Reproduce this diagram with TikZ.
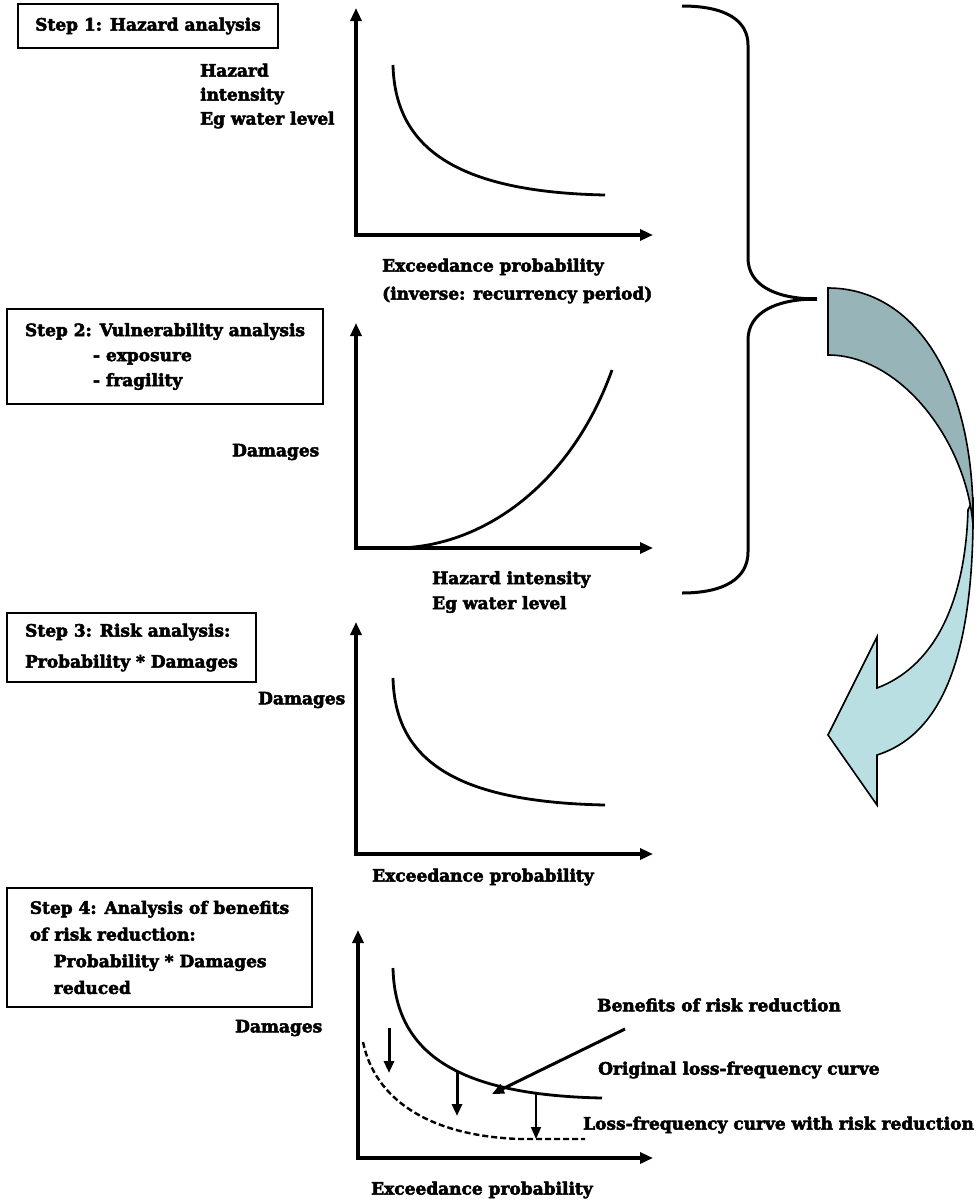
\documentclass[tikz,border=0pt]{standalone}
\usepackage{fontspec}
\setmainfont{DejaVu Serif}[BoldFeatures={FakeBold=3}]
\usetikzlibrary{arrows.meta}
\definecolor{arrowdark}{RGB}{151,180,184}
\definecolor{arrowlight}{RGB}{186,223,227}
\begin{document}
\begin{tikzpicture}[x=1pt,y=-1pt,
  font=\bfseries\fontsize{17}{24}\selectfont,
  lbl/.style={anchor=west, inner sep=0pt, align=left},
  stepbox/.style={draw, line width=2.8pt, inner sep=0pt, align=left},
  axis/.style={line width=3.2pt, {Triangle[length=13pt,width=11pt]}-{Triangle[length=13pt,width=11pt]}},
  curve/.style={line width=2.8pt},
  drop/.style={line width=3pt, -{Triangle[length=12pt,width=10pt]}},
  thindrop/.style={line width=1.8pt, -{Triangle[length=12pt,width=10pt]}},
  bracestyle/.style={line width=3pt},
  arrowshape/.style={draw=black, line width=1.6pt}
]
\useasboundingbox (0,0) rectangle (980,1203);

% ---------- Step boxes ----------
\node[stepbox, minimum width=260pt, minimum height=44pt] (s1) at (148,26) {Step 1: Hazard analysis};
\node[stepbox, minimum width=316pt, minimum height=95pt, font=\bfseries\fontsize{17}{25}\selectfont] (s2) at (165,356.5)
  {Step 2: Vulnerability analysis\\\hspace{68pt}- exposure\\\hspace{68pt}- fragility};
\node[stepbox, minimum width=249pt, minimum height=69pt, font=\bfseries\fontsize{17}{31}\selectfont] (s3) at (131.5,647.5)
  {Step 3: Risk analysis:\\Probability * Damages};
\node[stepbox, minimum width=305pt, minimum height=119pt, font=\bfseries\fontsize{17}{26.7}\selectfont] (s4) at (159.5,947.5)
  {Step 4: Analysis of benefits\\of risk reduction:\\\hspace{24pt}Probability * Damages\\\hspace{24pt}reduced};

% ---------- Chart 1 ----------
\coordinate (o1) at (356,235);
\coordinate (y1) at (356,8);
\coordinate (x1) at (653,235);
\draw[axis] (y1) -- (o1) -- (x1);
\coordinate (c1a) at (393,65);
\coordinate (c1b) at (605,195);
\draw[curve] (c1a) .. controls ([shift={(2,82)}]c1a) and ([shift={(-150,-3)}]c1b) .. (c1b);
\node[lbl] (l1y) at (200,96) {Hazard\\intensity\\Eg water level};
\node[lbl, font=\bfseries\fontsize{17}{28}\selectfont] (l1x) at (382,281) {Exceedance probability\\(inverse: recurrency period)};

% ---------- Chart 2 ----------
\coordinate (o2) at (356,548);
\coordinate (y2) at (356,323);
\coordinate (x2) at (653,548);
\draw[axis] (y2) -- (o2) -- (x2);
\coordinate (c2a) at (395,548);
\coordinate (c2b) at (612,370);
\draw[curve] (c2a) .. controls (480,548) and (570,487) .. (c2b);
\node[lbl] (l2y) at (232,452) {Damages};
\node[lbl, font=\bfseries\fontsize{17}{25}\selectfont] (l2x) at (432,592) {Hazard intensity\\Eg water level};

% ---------- Chart 3 ----------
\coordinate (o3) at (356,854);
\coordinate (y3) at (356,622);
\coordinate (x3) at (653,854);
\draw[axis] (y3) -- (o3) -- (x3);
\coordinate (c3a) at (393,678);
\coordinate (c3b) at (605,805);
\draw[curve] (c3a) .. controls ([shift={(2,82)}]c3a) and ([shift={(-150,-3)}]c3b) .. (c3b);
\node[lbl] (l3y) at (258,700) {Damages};
\node[lbl] (l3x) at (372,877) {Exceedance probability};

% ---------- Chart 4 ----------
\coordinate (o4) at (358,1158);
\coordinate (y4) at (358,930);
\coordinate (x4) at (653,1158);
\draw[axis] (y4) -- (o4) -- (x4);
\coordinate (c4a) at (393,968);
\coordinate (c4b) at (602,1098);
\draw[curve] (c4a) .. controls ([shift={(2,82)}]c4a) and ([shift={(-150,-3)}]c4b) .. (c4b);
\coordinate (d4a) at (363,1042);
\coordinate (d4m) at (520,1139);
\coordinate (d4b) at (585,1139);
\draw[line width=2.4pt, dash pattern=on 6pt off 3pt] (d4a) .. controls (375,1100) and (430,1136) .. (d4m) -- (d4b);
\coordinate (a1s) at (389,1028); \coordinate (a1e) at (389,1073);
\coordinate (a2s) at (457,1072); \coordinate (a2e) at (457,1116);
\coordinate (a3s) at (536,1092); \coordinate (a3e) at (536,1139);
\draw[drop] (a1s) -- (a1e);
\draw[drop] (a2s) -- (a2e);
\draw[thindrop] (a3s) -- (a3e);
\node[lbl] (ben) at (597,1005) {Benefits of risk reduction};
\node[lbl] (orig) at (598,1070) {Original loss-frequency curve};
\node[lbl] (red) at (583,1125) {Loss-frequency curve with risk reduction};
\coordinate (ps) at (625,1029);
\coordinate (pe) at (492,1094);
\draw[drop] (ps) -- (pe);
\node[lbl] (l4y) at (235,1028) {Damages};
\node[lbl] (l4x) at (371,1190) {Exceedance probability};

% ---------- Brace ----------
\coordinate (bt) at (682,6);
\coordinate (btip) at (817,299);
\coordinate (bb) at (682,593);
\draw[bracestyle] (bt) .. controls (725,6) and (748,20) .. (748,45) -- (748,258)
  .. controls (748,285) and (775,299) .. (btip)
  .. controls (775,299) and (748,313) .. (748,340) -- (748,552)
  .. controls (748,578) and (725,593) .. (bb);
\draw[line width=4pt] (800,299) -- (btip);

% ---------- Curved arrow ----------
\filldraw[fill=arrowlight, arrowshape] (973,500) .. controls (975,660) and (940,735) .. (877,755)
  -- (877,805) -- (828,735) -- (877,637) -- (877,688)
  .. controls (930,668) and (965,610) .. (968,510) -- cycle;
\filldraw[fill=arrowdark, arrowshape] (828,288) .. controls (915,288) and (975,380) .. (973,525)
  .. controls (966,440) and (900,355) .. (828,355) -- cycle;
\end{tikzpicture}
\end{document}
